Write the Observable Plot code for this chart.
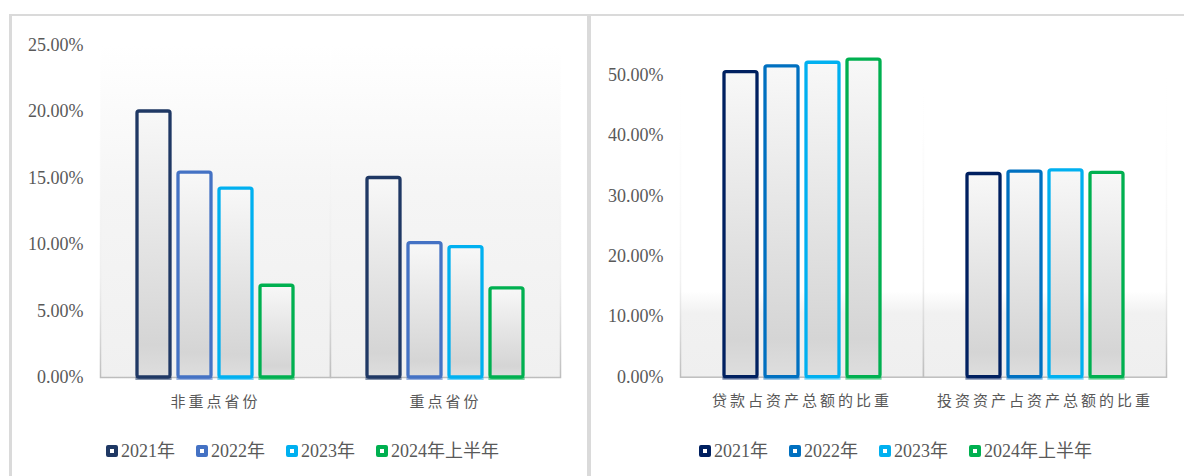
<!DOCTYPE html>
<html><head><meta charset="utf-8">
<script src="https://cdn.jsdelivr.net/npm/d3@7"></script>
<script src="https://cdn.jsdelivr.net/npm/@observablehq/plot@0.6"></script>
<style>
body{margin:0;background:#fff;width:1184px;height:476px;overflow:hidden;position:relative;font-family:"Liberation Serif","Noto Sans CJK SC",serif;}
.line{position:absolute;background:#dadada;z-index:5}
#left{position:absolute;left:10px;top:15px}
#right{position:absolute;left:589px;top:15px}
.legend{position:absolute;top:441px;display:flex;align-items:center;height:20px;line-height:20px;font-size:18px;color:#595959;white-space:nowrap}
.item{display:flex;align-items:center;margin-right:21px}
.sw{width:12px;height:12px;box-sizing:border-box;border:4px solid;border-radius:2px;background:#fff;margin-right:3px}
svg g[aria-label="fx-axis tick label"] text{letter-spacing:3px}
</style>
</head><body>
<svg width="0" height="0" style="position:absolute">
<defs>
<linearGradient id="barG" x1="0" y1="0" x2="0" y2="1">
<stop offset="0" stop-color="#f8f8f8"/><stop offset="0.55" stop-color="#e2e2e2"/><stop offset="0.88" stop-color="#d5d5d5"/><stop offset="1" stop-color="#dedede"/>
</linearGradient>
<linearGradient id="bgL" x1="0" y1="0" x2="0" y2="1">
<stop offset="0" stop-color="#ffffff"/><stop offset="0.45" stop-color="#f5f5f5"/><stop offset="1" stop-color="#f0f0f0"/>
</linearGradient>
<linearGradient id="bgR" x1="0" y1="0" x2="0" y2="1">
<stop offset="0" stop-color="#ffffff"/><stop offset="0.73" stop-color="#ffffff"/><stop offset="0.8" stop-color="#f1f1f1"/><stop offset="1" stop-color="#efefef"/>
</linearGradient>
<linearGradient id="edge" x1="0" y1="0" x2="0" y2="1">
<stop offset="0" stop-color="#ffffff" stop-opacity="0"/><stop offset="0.7" stop-color="#e8e8e8" stop-opacity="0.6"/><stop offset="1" stop-color="#bdbdbd"/>
</linearGradient>
</defs>
</svg>
<div id="left"></div>
<div id="right"></div>
<div class="line" style="left:9px;top:14px;width:1175px;height:2px"></div>
<div class="line" style="left:9px;top:14px;width:3px;height:462px"></div>
<div class="line" style="left:587px;top:14px;width:4px;height:462px"></div>
<div class="legend" id="legL" style="left:106px"></div>
<div class="legend" id="legR" style="left:699px"></div>
<script>
const years = ["2021年", "2022年", "2023年", "2024年上半年"];

const leftCats = ["非重点省份", "重点省份"];
const left2021 = [0.200, 0.150];
const left2022 = [0.154, 0.101];
const left2023 = [0.142, 0.098];
const left2024H1 = [0.069, 0.067];
const leftTicks = [0, 0.05, 0.10, 0.15, 0.20, 0.25];
const leftColors = ["#1f3864", "#4472c4", "#00b0f0", "#00b050"];

const rightCats = ["贷款占资产总额的比重", "投资资产占资产总额的比重"];
const right2021 = [0.5045, 0.336];
const right2022 = [0.514, 0.340];
const right2023 = [0.520, 0.342];
const right2024H1 = [0.525, 0.338];
const rightTicks = [0, 0.10, 0.20, 0.30, 0.40, 0.50];
const rightColors = ["#002060", "#0070c0", "#00b0f0", "#00b050"];

function table(cats, series) {
  const out = [];
  cats.forEach((c, i) => series.forEach((s, j) => out.push({cat: c, year: years[j], value: s[i]})));
  return out;
}
const leftData = table(leftCats, [left2021, left2022, left2023, left2024H1]);
const rightData = table(rightCats, [right2021, right2022, right2023, right2024H1]);
const fmt = d => (d * 100).toFixed(2) + "%";

function chart({data, cats, ticks, colors, width, marginLeft, marginRight, marginTop, marginBottom, ymax, pi, po, bg}) {
  return Plot.plot({
    width, height: 415, marginLeft, marginRight, marginTop, marginBottom,
    fx: {domain: cats, padding: 0, label: null, axis: null},
    x: {domain: years, paddingInner: pi, paddingOuter: po, axis: null},
    y: {domain: [0, ymax], axis: null},
    color: {domain: years, range: colors},
    style: {fontFamily: '"Liberation Serif","Noto Sans CJK SC",serif', color: "#595959", background: "transparent", overflow: "visible"},
    marks: [
      Plot.frame({fill: bg, stroke: "url(#edge)", strokeWidth: 1.5}),
      Plot.axisY({ticks, tickFormat: fmt, tickSize: 0, tickPadding: 17, fontSize: 18, label: null}),
      Plot.axisFx({anchor: "bottom", tickSize: 0, tickPadding: 18.5, fontSize: 15, label: null}),
      Plot.barY(data, {fx: "cat", x: "year", y1: 0, y2: 0, insetBottom: -3, insetLeft: -1.6, insetRight: -1.6, fill: "year", fillOpacity: 0.55}),
      Plot.barY(data, {fx: "cat", x: "year", y: "value", stroke: "year", fill: "url(#barG)", strokeWidth: 3.3, rx: 2})
    ]
  });
}

document.getElementById("left").append(chart({
  data: leftData, cats: leftCats, ticks: leftTicks, colors: leftColors,
  width: 578, marginLeft: 90, marginRight: 28, marginTop: 29.5, marginBottom: 53,
  ymax: 0.25, pi: 0.205, po: 0.884, bg: "url(#bgL)"
}));
document.getElementById("right").append(chart({
  data: rightData, cats: rightCats, ticks: rightTicks, colors: rightColors,
  width: 595, marginLeft: 91, marginRight: 18, marginTop: 43, marginBottom: 53.3,
  ymax: 0.527, pi: 0.196, po: 1.048, bg: "url(#bgR)"
}));

function legend(id, colors) {
  const el = document.getElementById(id);
  years.forEach((y, i) => {
    const it = document.createElement("div");
    it.className = "item";
    const sw = document.createElement("span");
    sw.className = "sw";
    sw.style.borderColor = colors[i];
    const t = document.createElement("span");
    t.textContent = y;
    it.append(sw, t);
    el.append(it);
  });
}
legend("legL", leftColors);
legend("legR", rightColors);
</script>
</body></html>
